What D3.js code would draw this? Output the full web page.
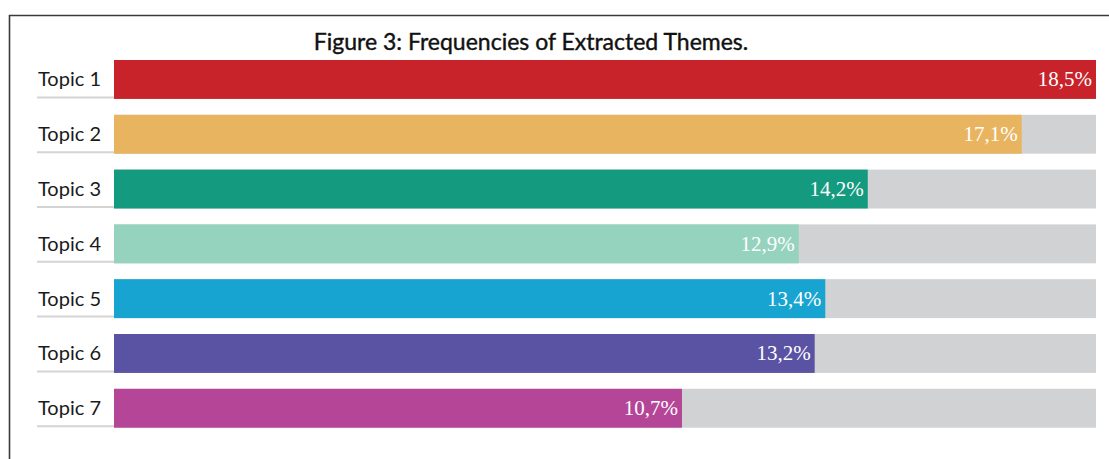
<!DOCTYPE html>
<html>
<head>
<meta charset="utf-8">
<script src="https://cdn.jsdelivr.net/npm/d3@7"></script>
<style>
    body { margin: 0; background: #fff; }
    svg { display: block; }
</style>
</head>
<body>
<div id="chart"></div>
<script>
// Chart data
const topics = ['Topic 1', 'Topic 2', 'Topic 3', 'Topic 4', 'Topic 5', 'Topic 6', 'Topic 7'];
const shares = [18.5, 17.1, 14.2, 12.9, 13.4, 13.2, 10.7];
const valueLabels = ['18,5%', '17,1%', '14,2%', '12,9%', '13,4%', '13,2%', '10,7%'];
const barColors = ['#c8222a', '#e8b460', '#149a7e', '#96d3bf', '#17a4d1', '#5a52a3', '#b44597'];
const maxShare = 18.5;

const width = 1109;
const height = 459;

const svg = d3.select('#chart').append('svg')
    .attr('width', width)
    .attr('height', height);

// frame (only top and left edges are visible in the crop)
svg.append('path')
    .attr('d', `M9.5,${height} L9.5,15.5 L${width},15.5`)
    .attr('fill', 'none')
    .attr('stroke', '#3a3a3a')
    .attr('stroke-width', 1.6);

svg.append('text')
    .attr('x', 531)
    .attr('y', 50)
    .attr('text-anchor', 'middle')
    .attr('font-family', 'Lato, sans-serif')
    .attr('font-weight', 'normal')
    .attr('font-size', 23)
    .attr('fill', '#111')
    .style('paint-order', 'stroke')
    .attr('stroke', '#111')
    .attr('stroke-width', 0.4)
    .text('Figure 3: Frequencies of Extracted Themes.');

const step = 54.8;
const x = d3.scaleLinear()
    .domain([0, maxShare])
    .range([114, 1096]);

const y = d3.scaleBand()
    .domain(topics)
    .range([60, 60 + step * (topics.length - 0.29)])
    .paddingInner(0.29)
    .paddingOuter(0);

const rows = svg.selectAll('g.row')
    .data(topics.map((t, i) => ({ topic: t, share: shares[i], label: valueLabels[i], color: barColors[i] })))
    .join('g')
    .attr('class', 'row');

// grey track
rows.append('rect')
    .attr('x', x(0))
    .attr('y', d => y(d.topic))
    .attr('width', x(maxShare) - x(0))
    .attr('height', y.bandwidth())
    .attr('fill', '#d1d2d4');

rows.append('rect')
    .attr('x', x(0))
    .attr('y', d => y(d.topic))
    .attr('width', d => x(d.share) - x(0))
    .attr('height', y.bandwidth())
    .attr('fill', d => d.color);

// underline below each label
rows.append('line')
    .attr('x1', 37)
    .attr('x2', x(0))
    .attr('y1', d => y(d.topic) + y.bandwidth() - 1.5)
    .attr('y2', d => y(d.topic) + y.bandwidth() - 1.5)
    .attr('stroke', '#d4d4d4')
    .attr('stroke-width', 2);

rows.append('text')
    .attr('x', 38)
    .attr('y', d => y(d.topic) + y.bandwidth() / 2 + 7)
    .attr('font-family', 'Lato, sans-serif')
    .attr('font-size', 20)
    .attr('fill', '#1a1a1a')
    .text(d => d.topic);

rows.append('text')
    .attr('x', d => x(d.share) - 4)
    .attr('y', d => y(d.topic) + y.bandwidth() / 2 + 7)
    .attr('text-anchor', 'end')
    .attr('font-family', '"Liberation Serif", serif')
    .attr('font-size', 21)
    .attr('fill', '#fff')
    .text(d => d.label);
</script>
</body>
</html>
